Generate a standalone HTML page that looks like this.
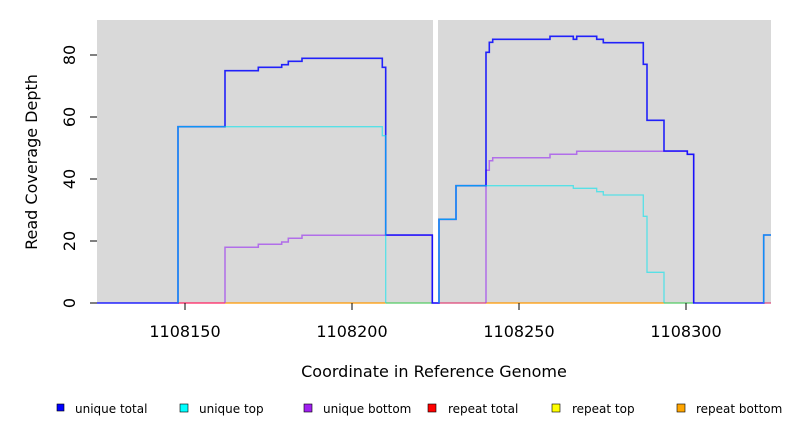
<!DOCTYPE html>
<html><head><style>body{margin:0;background:#fff}svg{display:block}text{font-family:"DejaVu Sans","Liberation Sans",sans-serif;fill:#000}</style></head><body>
<svg width="792" height="432" viewBox="0 0 792 432">
<rect x="97" y="20" width="674" height="283" fill="#d9d9d9"/>
<rect x="433" y="20" width="5" height="283" fill="#fff"/>
<g stroke-width="1.2" fill="none">
<polyline stroke="#ff2060" points="178,303 225,303"/>
<polyline stroke="#ff9900" points="225,303 385.7,303"/>
<polyline stroke="#55cc66" points="385.7,303 432,303"/>
<polyline stroke="#dd4477" points="439,303 486,303"/>
<polyline stroke="#ff9900" points="486,303 664,303"/>
<polyline stroke="#55cc66" points="664,303 693.7,303"/>
<polyline stroke="#dd4477" points="763.7,303 771,303"/>
<polyline stroke="#a040f0" stroke-opacity="0.7" stroke-width="1.5" points="225,303 225,247.3 258.3,247.3 258.3,244.3 281.7,244.3 281.7,242 288.3,242 288.3,238.3 302,238.3 302,235.3 432.3,235.3 432.3,303 439,303"/>
<polyline stroke="#a040f0" stroke-opacity="0.7" stroke-width="1.5" points="486,303 486,170.3 489.3,170.3 489.3,160.7 492.7,160.7 492.7,157.7 550,157.7 550,154.3 576.7,154.3 576.7,151.3 687.3,151.3 687.3,154.3 693.7,154.3 693.7,303"/>
<polyline stroke="#0000ff" stroke-width="1.6" stroke-opacity="0.85" points="97,303 178,303 178,126.7 225,126.7 225,70.7 258.3,70.7 258.3,67.3 281.7,67.3 281.7,64.7 288.3,64.7 288.3,61.3 302,61.3 302,58.3 382.3,58.3 382.3,67.3 385.7,67.3 385.7,235 432.3,235 432.3,303 439,303 439,219.3 456,219.3 456,185.7 486,185.7 486,52.3 489.3,52.3 489.3,42.3 492.7,42.3 492.7,39.3 550,39.3 550,36.3 573.3,36.3 573.3,39.3 576.7,39.3 576.7,36.3 596.7,36.3 596.7,39.3 603.3,39.3 603.3,42.7 643.3,42.7 643.3,64.3 647,64.3 647,120.3 664,120.3 664,151 687.3,151 687.3,154.3 693.7,154.3 693.7,303 763.7,303 763.7,235 771,235"/>
<polyline stroke="#00e5ee" stroke-opacity="0.6" stroke-width="1.3" points="178,303 178,126.7 382.3,126.7 382.3,135.7 385.7,135.7 385.7,303"/>
<polyline stroke="#00e5ee" stroke-opacity="0.6" stroke-width="1.3" points="439,303 439,219.3 456,219.3 456,185.7 573.3,185.7 573.3,188.3 596.7,188.3 596.7,191.7 603.3,191.7 603.3,195 643.3,195 643.3,216.3 647,216.3 647,272.3 664,272.3 664,303"/>
<polyline stroke="#00e5ee" stroke-opacity="0.6" stroke-width="1.3" points="763.7,303 763.7,235 771,235"/>
</g>
<g stroke="#000" stroke-width="1">
<line x1="90" y1="303" x2="97" y2="303"/><line x1="90" y1="241" x2="97" y2="241"/><line x1="90" y1="179" x2="97" y2="179"/><line x1="90" y1="117" x2="97" y2="117"/><line x1="90" y1="55" x2="97" y2="55"/>
<line x1="185" y1="303" x2="185" y2="310"/><line x1="352" y1="303" x2="352" y2="310"/><line x1="519" y1="303" x2="519" y2="310"/><line x1="686" y1="303" x2="686" y2="310"/>
</g>
<g font-size="16" text-anchor="middle">
<text transform="translate(75,303) rotate(-90)">0</text>
<text transform="translate(75,241) rotate(-90)">20</text>
<text transform="translate(75,179) rotate(-90)">40</text>
<text transform="translate(75,117) rotate(-90)">60</text>
<text transform="translate(75,55) rotate(-90)">80</text>
<text x="185" y="337">1108150</text><text x="352" y="337">1108200</text><text x="519" y="337">1108250</text><text x="686" y="337">1108300</text>
<text x="434" y="377">Coordinate in Reference Genome</text>
<text transform="translate(37,162) rotate(-90)">Read Coverage Depth</text>
</g>
<g font-size="12" stroke="#000" stroke-width="0.6">
<rect x="57" y="404" width="7" height="7" fill="#0000ff"/>
<rect x="180" y="404" width="8" height="8" fill="#00ffff"/>
<rect x="304" y="404" width="8" height="8" fill="#a020f0"/>
<rect x="428" y="404" width="8" height="8" fill="#ff0000"/>
<rect x="552" y="404" width="8" height="8" fill="#ffff00"/>
<rect x="677" y="404" width="8" height="8" fill="#ffa500"/>
</g>
<g font-size="12">
<text x="75" y="413">unique total</text>
<text x="199" y="413">unique top</text>
<text x="323" y="413">unique bottom</text>
<text x="448" y="413">repeat total</text>
<text x="572" y="413">repeat top</text>
<text x="696" y="413">repeat bottom</text>
</g>
</svg>
</body></html>
